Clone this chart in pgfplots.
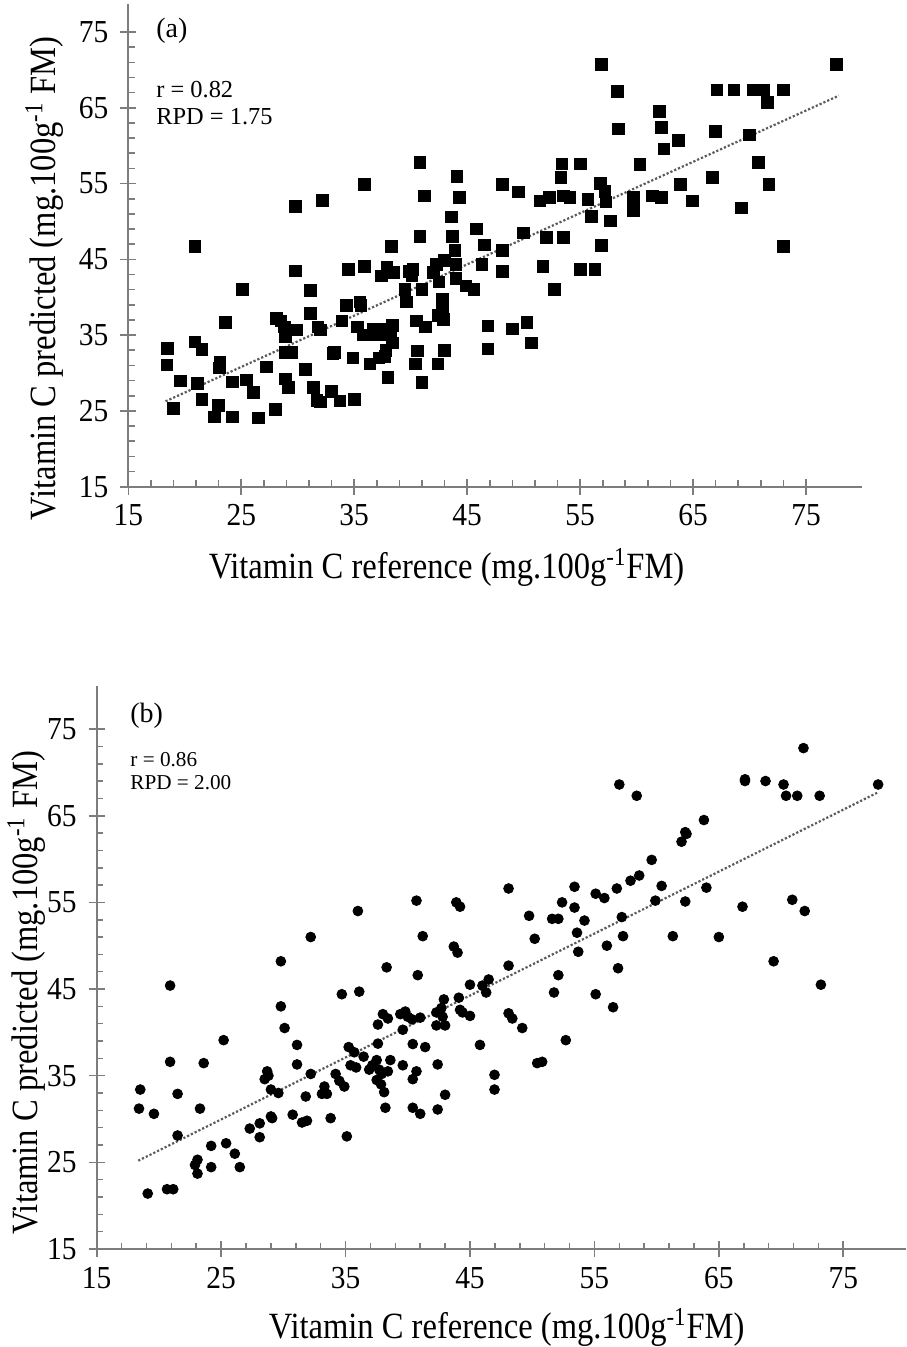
\documentclass[border=0pt]{standalone}
\usepackage{pgfplots}
\pgfplotsset{compat=1.18}
\usepackage{fontspec}
\setmainfont{Liberation Serif}
\newfontfamily\condfont{Liberation Serif}[FakeStretch=0.88]
\newfontfamily\tickfont{Liberation Serif}[FakeStretch=0.92]
\definecolor{axgray}{RGB}{125,125,125}
\definecolor{trendgray}{RGB}{90,90,90}

\pgfplotsset{
  vcaxis/.style={
    scale only axis,
    anchor=south west,
    axis lines=left,
    axis line style={-, color=axgray, line width=0.9pt},
    xmin=15, xmax=80, ymin=15,
    xtick={15,25,...,75}, ytick={15,25,...,75},
    minor x tick num=4, minor y tick num=4,
    tick align=inside,
    major tick length=4pt, minor tick length=3.2pt,
    every tick/.style={color=axgray, line width=0.8pt},
    extra x ticks={15,25,...,75}, extra y ticks={15,25,...,75},
    extra x tick labels={}, extra y tick labels={},
    extra tick style={tick align=outside, major tick length=4pt},
    /pgf/number format/assume math mode=true,
    tick label style={font=\tickfont\fontsize{16}{19}\selectfont, text=black},
    xticklabel style={yshift=-5.5pt},
    yticklabel style={xshift=-6.5pt},
    label style={font=\condfont\fontsize{18.5}{22}\selectfont},
    clip=false,
  }
}

\begin{document}
\begin{tikzpicture}
\useasboundingbox (0,0) rectangle (453pt,-673.5pt);

% ---------------- panel (a) ----------------
\begin{axis}[vcaxis,
  at={(64.15pt,-243.35pt)},
  width=367.1pt, height=241.35pt, ymax=78.7,
  xlabel={Vitamin C reference (mg.100g\textsuperscript{-1}FM)},
  ylabel={Vitamin C predicted (mg.100g\textsuperscript{-1} FM)},
  xlabel style={at={(axis description cs:0.4335,0)}, anchor=base, yshift=-45.65pt},
  ylabel style={at={(axis description cs:-0.0998,0.432)}, anchor=base},
]
\addplot[only marks, mark=square*, mark size=2.9pt, black] coordinates {
(18.47,33.24) (18.4,31.07) (19.0,25.3) (19.6,28.95) (20.9,46.7) (20.9,34.1)
(21.1,28.6) (21.5,33.1) (21.5,26.5) (22.6,24.2) (23.0,25.75) (23.1,31.4)
(23.05,30.7) (23.6,36.7) (24.2,28.85) (24.2,24.2) (25.1,41.0) (25.45,29.1)
(26.1,27.45) (26.5,24.1) (27.2,30.8) (28.0,25.2) (28.1,37.2) (28.5,36.9)
(28.8,36.1) (28.9,34.8) (28.9,32.7) (28.9,29.2) (29.2,28.1) (29.5,32.7)
(29.8,51.95) (29.8,43.5) (29.9,35.7) (30.7,30.5) (31.1,40.9) (31.1,37.9)
(31.4,28.1) (31.7,26.4) (31.8,36.1) (32.0,26.2) (32.2,52.8) (32.0,35.7)
(33.1,32.6) (33.25,32.7) (33.0,27.6) (33.75,26.3) (33.9,36.9) (34.3,38.9)
(34.5,43.7) (34.9,32.0) (35.0,26.5) (35.3,36.1) (35.5,39.4) (35.6,38.9)
(35.9,54.9) (35.9,44.1) (35.8,35.05) (36.4,31.2) (36.7,35.8) (36.9,35.05)
(37.2,32.0) (37.4,42.8) (37.4,35.8) (37.5,35.05) (37.7,32.2) (37.8,33.0)
(37.9,43.9) (38.0,29.4) (38.2,35.05) (38.3,46.7) (38.4,36.3) (38.5,43.3)
(38.4,34.0) (39.5,41.0) (39.6,39.4) (39.9,43.4) (40.1,42.8) (40.2,43.7)
(40.4,31.2) (40.5,36.9) (40.6,32.9) (40.8,57.8) (40.8,48.0) (41.0,28.8)
(41.0,41.0) (41.2,53.4) (41.3,36.1) (42.0,43.3) (42.3,44.35) (42.4,31.2)
(42.4,37.6) (42.5,42.0) (42.8,39.7) (42.8,38.6) (42.9,37.1) (43.0,44.85)
(43.0,33.0) (43.6,50.6) (43.7,48.0) (43.9,46.2) (44.0,44.35) (44.0,42.5)
(44.1,55.95) (44.3,53.2) (44.9,41.5) (45.6,41.0) (45.8,49.0) (46.3,44.35)
(46.5,46.9) (46.85,36.2) (46.85,33.2) (48.1,54.9) (48.1,46.2) (48.1,43.4)
(49.0,35.8) (49.55,53.9) (50.0,48.5) (50.3,36.7) (50.7,34.0) (51.45,52.7)
(51.7,44.1) (52.0,47.9) (52.3,53.2) (52.7,41.0) (53.3,55.8) (53.4,57.6)
(53.5,53.4) (53.5,47.9) (54.1,53.2) (55.0,57.6) (55.0,43.7) (55.7,52.9)
(56.0,50.7) (56.3,43.7) (56.8,55.05) (56.9,70.7) (56.9,46.85) (57.2,54.0)
(57.3,52.6) (57.7,50.1) (58.3,67.2) (58.4,62.2) (59.7,53.2) (59.7,51.5)
(60.3,57.5) (61.4,53.4) (62.0,64.5) (62.2,62.4) (62.2,53.2) (62.4,59.6)
(63.7,60.7) (63.9,54.9) (64.95,52.7) (66.7,55.8) (67.0,61.9) (67.1,67.35)
(68.6,67.35) (69.3,51.8) (70.0,61.4) (70.3,67.35) (70.55,67.35) (70.8,57.8)
(71.2,67.35) (71.6,65.7) (71.7,54.9) (73.0,67.35) (73.0,46.7) (77.7,70.7)
};
\addplot[densely dotted, line width=1.1pt, color=trendgray] coordinates {(18.3,26.27) (77.9,66.6)};
\node[anchor=base west, inner sep=0pt, font=\fontsize{14}{16}\selectfont] at (axis description cs:0.0377,0.9296) {(a)};
\node[anchor=base west, inner sep=0pt, font=\fontsize{12.2}{14}\selectfont] at (axis description cs:0.0377,0.807) {r = 0.82};
\node[anchor=base west, inner sep=0pt, font=\fontsize{12.2}{14}\selectfont] at (axis description cs:0.0377,0.751) {RPD = 1.75};
\end{axis}

% ---------------- panel (b) ----------------
\begin{axis}[vcaxis,
  at={(48.35pt,-624.5pt)},
  width=404.4pt, height=281.65pt, ymax=80,
  xlabel={Vitamin C reference (mg.100g\textsuperscript{-1}FM)},
  ylabel={Vitamin C predicted (mg.100g\textsuperscript{-1} FM)},
  xlabel style={at={(axis description cs:0.507,0)}, anchor=base, yshift=-44.5pt},
  ylabel style={at={(axis description cs:-0.0738,0.455)}, anchor=base},
]
\addplot[only marks, mark=*, mark size=2.45pt, black] coordinates {
(18.5,33.4) (18.4,31.2) (19.1,21.4) (19.6,30.6) (20.65,21.9) (21.15,21.9)
(20.9,45.4) (20.9,36.6) (21.5,32.9) (21.5,28.1) (22.9,24.7) (23.1,25.3)
(23.1,23.7) (23.3,31.2) (23.6,36.45) (24.2,26.9) (24.2,24.45) (25.2,39.1)
(25.4,27.2) (26.1,26.0) (26.5,24.45) (27.3,28.9) (28.1,27.9) (28.1,29.5)
(28.5,34.6) (28.7,35.5) (28.8,35.0) (29.0,30.3) (29.1,30.1) (29.0,33.4)
(29.6,33.0) (29.8,48.2) (29.8,43.0) (30.1,40.5) (30.75,30.5) (31.1,38.55)
(31.1,36.3) (31.5,29.6) (31.8,32.6) (31.9,29.8) (32.2,51.0) (32.2,35.2)
(33.1,32.9) (33.3,33.75) (33.5,32.9) (33.8,30.1) (34.2,35.2) (34.5,34.4)
(34.7,44.4) (34.9,33.75) (35.1,28.0) (35.25,38.3) (35.4,36.2) (35.7,37.7)
(35.85,35.95) (35.99,54.0) (36.1,44.7) (36.45,37.2) (36.9,35.7) (37.15,36.2)
(37.5,34.5) (37.5,36.8) (37.6,40.9) (37.6,38.7) (37.7,35.7) (37.85,34.0)
(37.9,35.2) (38.0,42.1) (38.1,33.1) (38.2,31.3) (38.3,47.5) (38.4,41.6)
(38.4,35.5) (38.6,36.8) (39.4,42.1) (39.6,40.3) (39.6,36.2) (39.8,42.4)
(40.0,41.8) (40.35,41.5) (40.4,38.65) (40.4,34.6) (40.4,31.3) (40.7,55.2)
(40.7,35.5) (40.8,46.6) (41.0,41.7) (41.0,30.6) (41.2,51.1) (41.4,38.3)
(42.3,42.3) (42.3,40.8) (42.4,36.3) (42.4,31.1) (42.7,42.8) (42.8,41.8)
(42.9,43.8) (43.0,40.8) (43.0,32.8) (43.7,49.9) (43.9,55.0) (44.0,49.2)
(44.1,44.0) (44.2,54.5) (44.2,42.6) (44.4,42.3) (45.0,45.5) (45.0,41.9)
(45.8,38.55) (46.0,45.4) (46.3,44.6) (46.5,46.1) (46.97,35.1) (46.97,33.4)
(48.1,56.6) (48.1,47.7) (48.1,42.2) (48.4,41.6) (49.2,40.5) (49.75,53.45)
(50.2,50.8) (50.4,36.45) (50.8,36.6) (51.6,53.1) (51.75,44.6) (52.1,53.1)
(52.1,46.6) (52.4,55.0) (52.7,39.1) (53.4,56.8) (53.4,54.4) (53.6,51.5)
(53.7,49.3) (54.2,52.9) (55.1,56.0) (55.1,44.4) (55.8,55.5) (56.0,50.0)
(56.5,42.9) (56.8,56.6) (56.9,47.4) (57.0,68.6) (57.2,53.3) (57.3,51.1)
(57.9,57.5) (58.4,67.3) (58.6,58.1) (59.6,59.9) (59.9,55.2) (60.4,56.9)
(61.3,51.1) (62.0,62.0) (62.3,63.1) (62.4,62.9) (62.3,55.1) (63.8,64.5)
(64.0,56.7) (65.0,51.0) (66.9,54.5) (67.1,69.2) (67.1,69.0) (68.75,69.0)
(69.4,48.2) (70.2,68.6) (70.4,67.3) (70.9,55.3) (71.3,67.3) (71.8,72.8)
(71.9,54.0) (73.1,67.3) (73.2,45.5) (77.8,68.6)
};
\addplot[densely dotted, line width=1.1pt, color=trendgray] coordinates {(18.34,25.19) (77.8,67.7)};
\node[anchor=base west, inner sep=0pt, font=\fontsize{14}{16}\selectfont] at (axis description cs:0.0412,0.934) {(b)};
\node[anchor=base west, inner sep=0pt, font=\fontsize{10.6}{12}\selectfont] at (axis description cs:0.0412,0.857) {r = 0.86};
\node[anchor=base west, inner sep=0pt, font=\fontsize{10.6}{12}\selectfont] at (axis description cs:0.0412,0.815) {RPD = 2.00};
\end{axis}
\end{tikzpicture}
\end{document}
